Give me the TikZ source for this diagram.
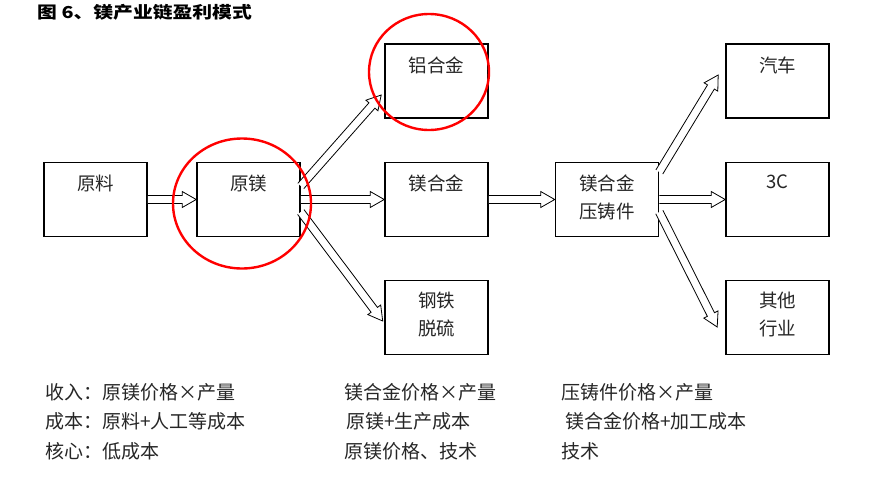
\documentclass[tikz,border=0pt]{standalone}
\usepackage{fontspec}
\setmainfont{Noto Sans CJK SC}
\usetikzlibrary{calc}
\newcommand\hollowarrow[2]{%
  \coordinate (ha-c) at ($(#2)!14pt!(#1)$);
  \draw[harrow] ($(#1)!4pt!90:(#2)$) -- ($(ha-c)!4pt!-90:(#1)$) -- ($(ha-c)!8pt!-90:(#1)$) -- (#2) -- ($(ha-c)!8pt!90:(#1)$) -- ($(ha-c)!4pt!90:(#1)$) -- ($(#1)!4pt!-90:(#2)$);
}
\begin{document}
\begin{tikzpicture}[x=1pt,y=-1pt,
  box/.style={draw=black,line width=1.6pt,minimum width=103pt,minimum height=74pt,inner sep=0pt},
  boxtext/.style={anchor=north,align=center,inner sep=0pt,text=black!85,font=\fontsize{18.5}{28}\selectfont},
  harrow/.style={draw=black,line width=0.8pt,fill=white,line join=miter},
  ring/.style={draw=red,line width=2.4pt},
  info/.style={anchor=west,inner sep=0pt,text=black!85,font=\fontsize{19}{22}\selectfont}]
\useasboundingbox (0,0) rectangle (893,490);
% title
\node[anchor=west,inner sep=0pt,xscale=1.2,transform shape,font=\fontsize{16.5}{18}\selectfont\bfseries] (title) at (37,12) {图 6、镁产业链盈利模式};
% boxes
\node[box] (yl) at (95.5,199.5) {};
\node[box] (ym) at (248.5,199.5) {};
\node[box] (lv) at (436.5,81) {};
\node[box] (mg) at (436.5,199.5) {};
\node[box] (gt) at (436.5,317.5) {};
\node[box] (yz) at (607,199.5) {};
\node[box] (qc) at (777.5,81) {};
\node[box] (c3) at (777.5,199.5) {};
\node[box] (qt) at (777.5,317.5) {};
% box texts
\node[boxtext] (t-yl) at ([yshift=-13]yl.north) {原料};
\node[boxtext] (t-ym) at ([yshift=-13]ym.north) {原镁};
\node[boxtext] (t-lv) at ([yshift=-13]lv.north) {铝合金};
\node[boxtext] (t-mg) at ([yshift=-13]mg.north) {镁合金};
\node[boxtext] (t-gt) at ([yshift=-12]gt.north) {钢铁\\脱硫};
\node[boxtext] (t-yz) at ([yshift=-13]yz.north) {镁合金\\压铸件};
\node[boxtext] (t-qc) at ([yshift=-13]qc.north) {汽车};
\node[boxtext] (t-c3) at ([yshift=-13]c3.north) {3C};
\node[boxtext] (t-qt) at ([yshift=-12]qt.north) {其他\\行业};
% arrow end points
\coordinate (a1s) at (yl.east);
\coordinate (a1e) at (ym.west);
\coordinate (a2s) at ([yshift=13.5]ym.east);
\coordinate (a2e) at ([xshift=-3,yshift=-14]lv.west);
\coordinate (a3s) at (ym.east);
\coordinate (a3e) at (mg.west);
\coordinate (a4s) at ([yshift=-12.5]ym.east);
\coordinate (a4e) at ([xshift=-1.5,yshift=-3.5]gt.west);
\coordinate (a5s) at (mg.east);
\coordinate (a5e) at (yz.west);
\coordinate (a6s) at ([yshift=27.5]yz.east);
\coordinate (a6e) at ([xshift=-7,yshift=6]qc.west);
\coordinate (a7s) at (yz.east);
\coordinate (a7e) at (c3.west);
\coordinate (a8s) at ([yshift=-12.5]yz.east);
\coordinate (a8e) at ([xshift=-8,yshift=-9.5]qt.west);
\hollowarrow{a1s}{a1e}
\hollowarrow{a2s}{a2e}
\hollowarrow{a3s}{a3e}
\hollowarrow{a4s}{a4e}
\hollowarrow{a5s}{a5e}
\hollowarrow{a6s}{a6e}
\hollowarrow{a7s}{a7e}
\hollowarrow{a8s}{a8e}
% red rings
\draw[ring] (242,203.5) ellipse [x radius=69, y radius=65];
\draw[ring] (429,72) ellipse [x radius=60, y radius=58];
% bottom texts
\node[info] (r1c1) at (45,392) {收入：原镁价格×产量};
\node[info] (r2c1) at (45,421) {成本：原料+人工等成本};
\node[info] (r3c1) at (45,451) {核心：低成本};
\node[info] (r1c2) at (344,392) {镁合金价格×产量};
\node[info] (r2c2) at (346,421) {原镁+生产成本};
\node[info] (r3c2) at (344,451) {原镁价格、技术};
\node[info] (r1c3) at (561,392) {压铸件价格×产量};
\node[info] (r2c3) at (565,421) {镁合金价格+加工成本};
\node[info] (r3c3) at (561,451) {技术};
\end{tikzpicture}
\end{document}
